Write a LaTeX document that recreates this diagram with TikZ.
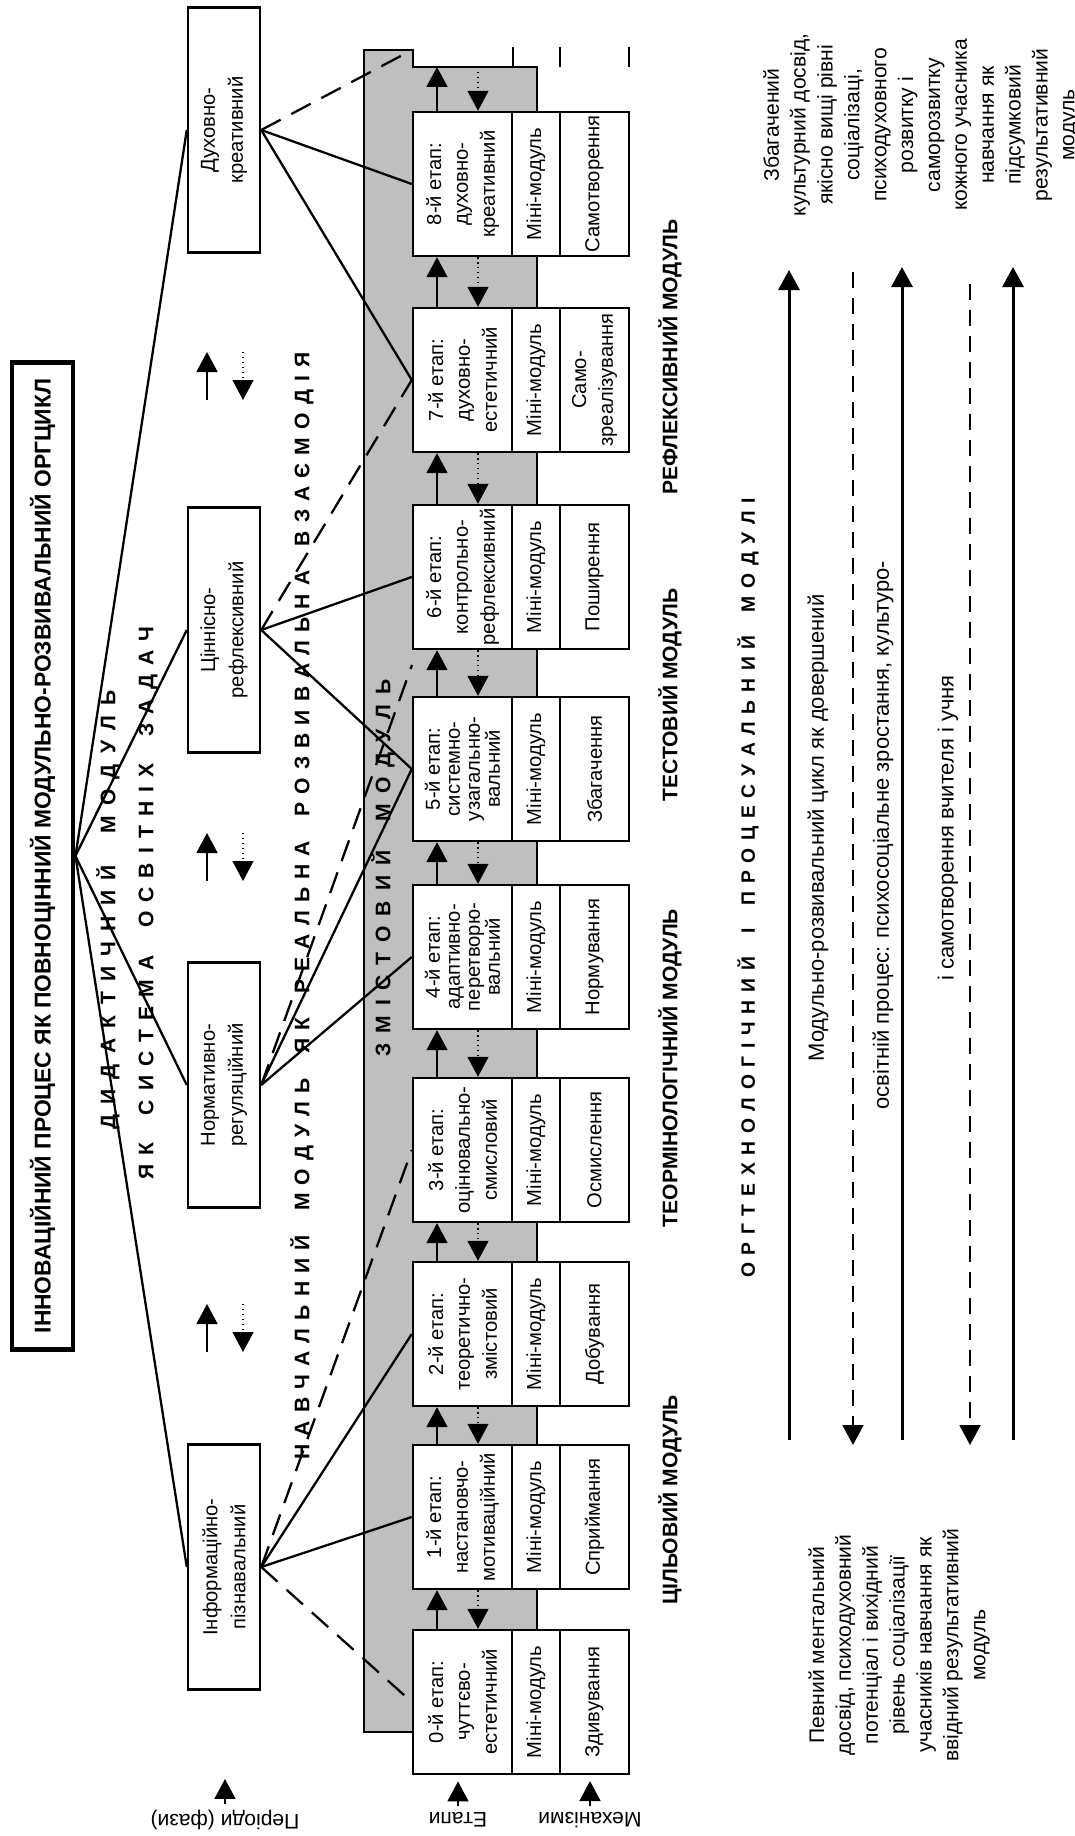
\documentclass[tikz,border=0pt]{standalone}
\usepackage{fontspec}
\setmainfont{Liberation Sans}
\usetikzlibrary{arrows.meta}
% letters spread evenly over a given length
\newcommand{\spreadtext}[2]{\makebox[#1][s]{#2}}

\begin{document}
\begin{tikzpicture}[x=0.02cm, y=-0.02cm, font=\fontsize{11.5}{15.3}\selectfont,
    cellbox/.style={draw, line width=1.4pt, fill=white, rotate=90, align=center, inner sep=0pt},
    phasebox/.style={cellbox, minimum width=4.9cm, minimum height=1.44cm, font=\fontsize{11.5}{16}\selectfont},
    stagebox/.style={cellbox, minimum width=2.88cm, minimum height=1.98cm},
    tightbox/.style={stagebox, font=\fontsize{11.5}{11.4}\selectfont},
    minibox/.style={cellbox, minimum width=2.88cm, minimum height=0.96cm},
    mechbox/.style={cellbox, minimum width=2.88cm, minimum height=1.38cm},
    conn/.style={line width=1.3pt},
    dashconn/.style={conn, dash pattern=on 0.44cm off 0.24cm},
    headtip/.style={-{Triangle[length=0.4cm, width=0.42cm]}},
    uparrow/.style={headtip, line width=1pt},
    downarrow/.style={headtip, line width=0.8pt, dotted},
    spaced/.style={rotate=90, inner sep=0pt, font=\fontsize{12}{14}\selectfont\bfseries},
    colhead/.style={rotate=90, font=\fontsize{12}{14}\selectfont\bfseries},
    sidenote/.style={rotate=90, align=center, font=\fontsize{12}{15.3}\selectfont}]
	\useasboundingbox (0,0) rectangle (1075,1836);
	% shaded band of the content module
	\filldraw[fill=black!25, line width=1.4pt] (364,50) -- (413,50) -- (413,67) -- (537,67) -- (537,1630) -- (413,1630) -- (413,1732) -- (364,1732) -- cycle;
	\foreach \x in {513, 560, 629}
		\draw[line width=1.4pt] (\x,47) -- (\x,67);
	\coordinate (steptop) at (462.5,67);
	\coordinate (topend) at (412,50);
	\coordinate (gapend) at (412,665);
	% title and the four phases
	\node[cellbox, line width=2.8pt, minimum width=19.76cm, minimum height=1.22cm, font=\fontsize{13}{15}\selectfont\bfseries] (title) at (42.5,856) {\makebox[19.4cm]{ІННОВАЦІЙНИЙ ПРОЦЕС ЯК ПОВНОЦІННИЙ МОДУЛЬНО-РОЗВИВАЛЬНИЙ ОРГЦИКЛ}};
	\foreach \name/\y/\txt in {pD/130/{Духовно-\\креативний}, pC/630/{Ціннісно-\\рефлексивний}, pN/1085/{Нормативно-\\регуляційний}, pI/1567/{Інформаційно-\\пізнавальний}}
		\node[phasebox] (\name) at (224,\y) {\txt};
	% stages with mini-module and mechanism
	\foreach \i/\y/\st/\txt/\mech in {0/1702/stagebox/{0-й етап:\\чуттєво-\\естетичний}/Здивування,
			1/1517/stagebox/{1-й етап:\\настановчо-\\мотиваційний}/Сприймання,
			2/1334/stagebox/{2-й етап:\\теоретично-\\змістовий}/Добування,
			3/1150/stagebox/{3-й етап:\\оцінювально-\\смисловий}/Осмислення,
			4/957/tightbox/{4-й етап:\\адаптивно-\\перетворю-\\вальний}/Нормування,
			5/769/tightbox/{5-й етап:\\системно-\\узагальню-\\вальний}/Збагачення,
			6/577/stagebox/{6-й етап:\\контрольно-\\рефлексивний}/Поширення,
			7/380/stagebox/{7-й етап:\\духовно-\\естетичний}/{Само-\\зреалізування},
			8/184/stagebox/{8-й етап:\\духовно-\\креативний}/Самотворення} {
		\node[\st] (s\i) at (462.5,\y) {\txt};
		\node[minibox] (m\i) at (536,\y) {Міні-модуль};
		\node[mechbox] (r\i) at (594.5,\y) {\mech};
	}
	% passing from stage to stage
	\foreach \i [count=\j from 1] in {0,...,7} {
		\draw[uparrow] ([xshift=-0.51cm]s\i.east) -- ([xshift=-0.51cm]s\j.west);
		\draw[downarrow] ([xshift=0.31cm]s\j.west) -- ([xshift=0.31cm]s\i.east);
	}
	\draw[uparrow] ([xshift=-0.51cm]s8.east) -- ([xshift=-0.51cm]steptop);
	\draw[downarrow] ([xshift=0.31cm]steptop) -- ([xshift=0.31cm]s8.east);
	% fan from the title to the phases, from the phases to the stages
	\foreach \p in {pD, pC, pN, pI}
		\draw[conn] (title.south) -- (\p.north);
	\draw[dashconn] (pD.south) -- (topend);
	\draw[conn] (pD.south) -- (s8.north);
	\draw[conn] (pD.south) -- (s7.north);
	\draw[dashconn] (pC.south) -- (s7.north);
	\draw[conn] (pC.south) -- (s6.north);
	\draw[conn] (pC.south) -- (s5.north);
	\draw[dashconn] (pN.south) -- (gapend);
	\draw[conn] (pN.south) -- (s5.north);
	\draw[conn] (pN.south) -- (s4.north);
	\draw[dashconn] (pI.south) -- (s3.north);
	\draw[conn] (pI.south) -- (s2.north);
	\draw[conn] (pI.south) -- (s1.north);
	\draw[dashconn] (pI.south) -- (s0.north);
	% arrows between the phases
	\foreach \y in {376, 857, 1328} {
		\draw[uparrow] (207,\y+24) -- (207,\y-24);
		\draw[downarrow] (243,\y-24) -- (243,\y+24);
	}
	% spaced headings
	\node[spaced] (did) at (108,910) {\spreadtext{8.8cm}{Д И Д А К Т И Ч Н И Й~~~М О Д У Л Ь}};
	\node[spaced] (sys) at (148,903) {\spreadtext{11.06cm}{Я К~~~С И С Т Е М А~~~О С В І Т Н І Х~~~З А Д А Ч}};
	\node[spaced] (learn) at (302,906) {\spreadtext{22.14cm}{Н А В Ч А Л Ь Н И Й~~~М О Д У Л Ь~~~Я К~~~Р Е А Л Ь Н А~~~Р О З В И В А Л Ь Н А~~~В З А Є М О Д І Я}};
	\node[spaced] (content) at (383,868) {\spreadtext{7.54cm}{З М І С Т О В И Й~~~М О Д У Л Ь}};
	\node[spaced, font=\fontsize{11}{13}\selectfont\bfseries] (org) at (748,888) {\spreadtext{15.6cm}{О Р Г Т Е Х Н О Л О Г І Ч Н И Й~~~І~~~П Р О Ц Е С У А Л Ь Н И Й~~~М О Д У Л І}};
	% modules under the stages
	\foreach \y/\lab [count=\k] in {1500/ЦІЛЬОВИЙ МОДУЛЬ, 1068/ТЕОРМІНОЛОГІЧНИЙ МОДУЛЬ, 695/ТЕСТОВИЙ МОДУЛЬ, 357/РЕФЛЕКСИВНИЙ МОДУЛЬ}
		\node[colhead] (h\k) at (670,\y) {\lab};
	% long arrows of the process
	\foreach \x/\ya/\yb in {789/1440/270, 902/1440/267, 1013/1440/267}
		\draw[headtip, line width=1.7pt] (\x,\ya) -- (\x,\yb);
	\foreach \x/\ya/\yb in {853/272/1445, 970/284/1445}
		\draw[headtip, line width=1.1pt, dash pattern=on 0.32cm off 0.2cm] (\x,\ya) -- (\x,\yb);
	\node[sidenote, font=\fontsize{12.5}{15}\selectfont] (t1) at (818,828) {Модульно-розвивальний цикл як довершений};
	\node[sidenote, font=\fontsize{12.5}{15}\selectfont] (t2) at (883,835) {освітній процес: психосоціальне зростання, культуро-};
	\node[sidenote, font=\fontsize{12.5}{15}\selectfont] (t3) at (948,828) {і самотворення вчителя і учня};
	% results at both ends
	\node[sidenote] (final) at (921,125) {Збагачений\\культурний досвід,\\якісно вищі рівні\\соціалізаці,\\психодуховного\\розвитку і\\саморозвитку\\кожного учасника\\навчання як\\підсумковий\\результативний\\модуль};
	\node[sidenote] (start) at (899,1645) {Певний ментальний\\досвід,  психодуховний\\потенціал і вихідний\\рівень соціалізації\\учасників навчання як\\ввідний результативний\\модуль};
	% row names
	\foreach \x/\lab/\name in {225/{Періоди (фази)}/lper, 458/Етапи/leta, 590/Механізми/lmech} {
		\node[rotate=180, font=\fontsize{12}{14}\selectfont] (\name) at (\x,1820) {\lab};
		\draw[uparrow] (\name.south) -- ++(0,-25);
	}
\end{tikzpicture}
\end{document}
